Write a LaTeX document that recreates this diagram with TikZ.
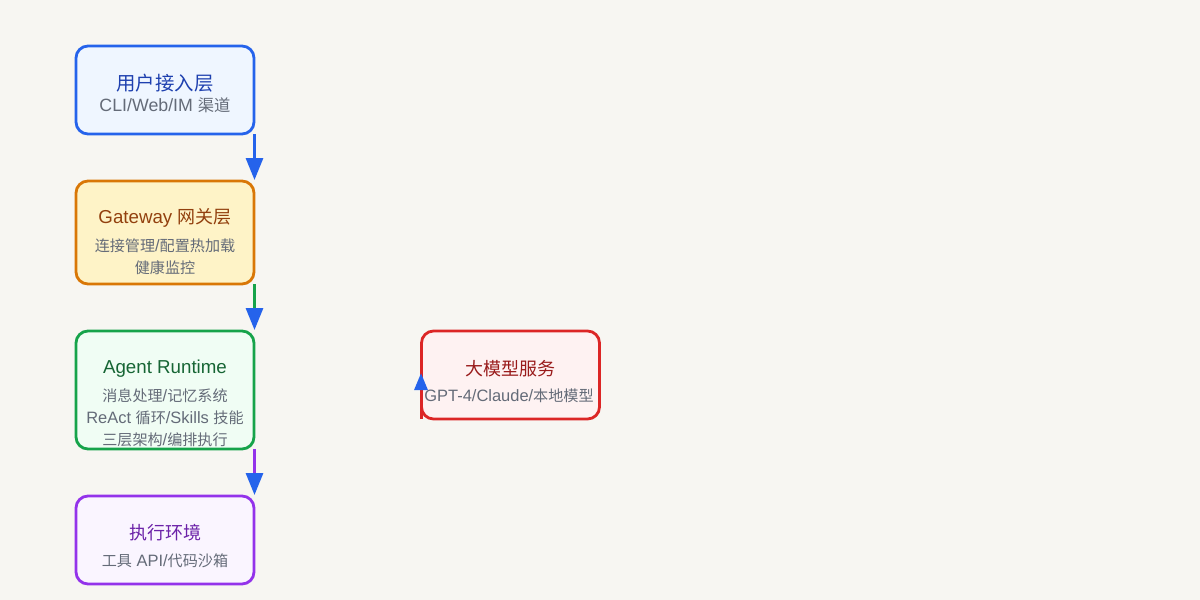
\documentclass[tikz,border=0pt]{standalone}
\usepackage{fontspec}
\setmainfont{Noto Sans CJK SC}
\newfontfamily\latt[Scale=1.04]{Liberation Sans}
\newfontfamily\lats[Scale=1.09]{Liberation Sans}
\usetikzlibrary{arrows.meta}
\definecolor{bg}{HTML}{F7F6F2}
\definecolor{subgray}{HTML}{646B78}
\definecolor{arrowblue}{HTML}{2563EB}
\definecolor{bluestroke}{HTML}{2563EB}
\definecolor{bluefill}{HTML}{EFF6FF}
\definecolor{bluetext}{HTML}{1E40AF}
\definecolor{orangestroke}{HTML}{D97706}
\definecolor{orangefill}{HTML}{FEF3C7}
\definecolor{orangetext}{HTML}{92400E}
\definecolor{greenstroke}{HTML}{16A34A}
\definecolor{greenfill}{HTML}{F0FDF4}
\definecolor{greentext}{HTML}{166534}
\definecolor{purplestroke}{HTML}{9333EA}
\definecolor{purplefill}{HTML}{FAF5FF}
\definecolor{purpletext}{HTML}{6B21A8}
\definecolor{redstroke}{HTML}{DC2626}
\definecolor{redfill}{HTML}{FEF2F2}
\definecolor{redtext}{HTML}{991B1B}
\begin{document}
\begin{tikzpicture}[x=1pt,y=-1pt,
  box/.style={draw, line width=2.8pt, rounded corners=12pt, minimum width=178pt, inner sep=0pt, outer sep=0pt},
  ttl/.style={font=\fontsize{18}{20}\selectfont, inner sep=0pt},
  bigttl/.style={font=\fontsize{19.4}{22}\selectfont, inner sep=0pt},
  sub/.style={font=\fontsize{15.1}{17}\selectfont, text=subgray, inner sep=0pt},
  bigsub/.style={font=\fontsize{16.3}{18}\selectfont, text=subgray, inner sep=0pt},
  conn/.style={line width=3pt, -{Triangle[width=17pt,length=22pt,color=arrowblue]}},
  connsmall/.style={line width=3pt, -{Triangle[width=13pt,length=17pt,color=arrowblue]}}]
\fill[bg] (0,0) rectangle (1200,600);
\useasboundingbox (0,0) rectangle (1200,600);

\node[box, draw=bluestroke, fill=bluefill, minimum height=88pt] (b1) at (165,90) {};
\node[box, draw=orangestroke, fill=orangefill, minimum height=103pt] (b2) at (165,232.5) {};
\node[box, draw=greenstroke, fill=greenfill, minimum height=118pt] (b3) at (165,390) {};
\node[box, draw=purplestroke, fill=purplefill, minimum height=88pt] (b4) at (165,540) {};
\node[box, draw=redstroke, fill=redfill, minimum height=88pt] (r) at (510.5,375) {};

\node[bigttl, text=bluetext] (t1) at (165,83) {用户接入层};
\node[bigsub] (s1) at (165,105) {{\lats CLI/Web/IM }渠道};

\node[ttl, text=orangetext] (t2) at (165,218) {{\latt Gateway }网关层};
\node[sub] (s2a) at (165,246) {连接管理{\lats /}配置热加载};
\node[sub] (s2b) at (165,268) {健康监控};

\node[ttl, text=greentext] (t3) at (165,369) {\latt Agent Runtime};
\node[sub] (s3a) at (165,396) {消息处理{\lats /}记忆系统};
\node[sub] (s3b) at (165,418) {{\lats ReAct }循环{\lats /Skills }技能};
\node[sub] (s3c) at (165,440) {三层架构{\lats /}编排执行};

\node[ttl, text=purpletext] (t4) at (165,533) {执行环境};
\node[sub] (s4) at (165,561) {工具{\lats{} API/}代码沙箱};

\node[ttl, text=redtext] (t5) at (510.5,369) {大模型服务};

\draw[connsmall, redstroke] ([xshift=-0.5pt]r.south west) -- ([xshift=-0.5pt,yshift=2pt]r.west);
\node[sub] (s5) at (509,396) {{\lats GPT-4/Claude/}本地模型};

\draw[conn, bluestroke] ([xshift=0.5pt]b1.south east) -- ([xshift=0.5pt,yshift=1pt]b2.north east);
\draw[conn, greenstroke] ([xshift=0.5pt]b2.south east) -- ([xshift=0.5pt,yshift=1pt]b3.north east);
\draw[conn, purplestroke] ([xshift=0.5pt]b3.south east) -- ([xshift=0.5pt,yshift=1pt]b4.north east);
\end{tikzpicture}
\end{document}
